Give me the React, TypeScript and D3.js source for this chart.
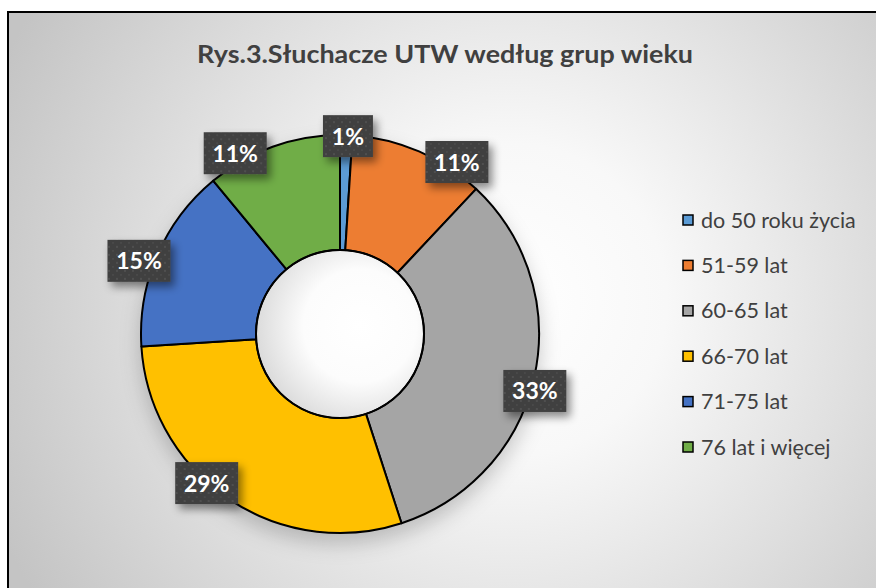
import React from "react";
import * as d3 from "d3";

const categories = ["do 50 roku życia", "51-59 lat", "60-65 lat", "66-70 lat", "71-75 lat", "76 lat i więcej"];
const values = [1, 11, 33, 29, 15, 11];
const labels = ["1%", "11%", "33%", "29%", "15%", "11%"];
const colors = ["#5B9BD5", "#ED7D31", "#A5A5A5", "#FFC000", "#4472C4", "#70AD47"];
// label placement nudges (degrees along arc, radius factor)
const labelAngleNudge = [0.5, 10.8, 3.7, 7.6, -3.4, -10.3];
const labelRadiusFactor = [0.995, 1.045, 1.02, 1.005, 1.075, 1.05];

const title = "Rys.3.Słuchacze UTW według grup wieku";

export default function App() {
  const W = 876, H = 588;
  const cx = 340, cy = 334, R = 199, r = 84;
  const pie = d3.pie<number>().sort(null).value((d) => d);
  const arcs = pie(values);
  const arcGen = d3.arc<d3.PieArcDatum<number>>().innerRadius(r).outerRadius(R);
  const font = "'Open Sans', 'DejaVu Sans', sans-serif";
  const font2 = "Lato, 'Open Sans', sans-serif";

  const legendX = 683, legendY0 = 220, legendStep = 45.4;

  return (
    <svg width={W} height={H} style={{ position: "absolute", left: 0, top: 0 }} fontFamily={font}>
      <defs>
        <radialGradient id="bg" gradientUnits="userSpaceOnUse" cx={510} cy={300} r={560}>
          <stop offset="0" stopColor="#ffffff" />
          <stop offset="0.28" stopColor="#f8f8f8" />
          <stop offset="1" stopColor="#c4c4c4" />
        </radialGradient>
        <filter id="pieShadow" x="-30%" y="-30%" width="160%" height="170%">
          <feDropShadow dx="0" dy="10" stdDeviation="10" floodColor="#000" floodOpacity="0.2" />
        </filter>
        <filter id="boxShadow" x="-40%" y="-40%" width="190%" height="190%">
          <feDropShadow dx="4" dy="5" stdDeviation="4" floodColor="#000" floodOpacity="0.45" />
        </filter>
        <pattern id="dots" width="8" height="8" patternUnits="userSpaceOnUse">
          <rect width="8" height="8" fill="#404040" />
          <circle cx="2" cy="2" r="1" fill="#555555" />
          <circle cx="6" cy="6" r="1" fill="#4a4a4a" />
        </pattern>
        <radialGradient id="hole" cx="0.62" cy="0.45" r="0.62">
          <stop offset="0" stopColor="#ffffff" />
          <stop offset="0.55" stopColor="#fcfcfc" />
          <stop offset="1" stopColor="#dcdcdc" />
        </radialGradient>
      </defs>
      <rect x={8} y={12} width={W + 20} height={H + 20} fill="url(#bg)" stroke="#000" strokeWidth={2} />
      <text x={445} y={63} textAnchor="middle" fontSize={25} fontWeight="bold" fill="#404040" fontFamily={font2}
        textLength={496} lengthAdjust="spacingAndGlyphs">{title}</text>

      <g transform={`translate(${cx},${cy})`}>
        <g filter="url(#pieShadow)">
          {arcs.map((a, i) => (
            <path key={i} d={arcGen(a) || ""} fill={colors[i]} stroke="#000" strokeWidth={2} strokeLinejoin="round" />
          ))}
        </g>
        <circle r={r - 1} fill="url(#hole)" />
        <circle r={r} fill="none" stroke="#000" strokeWidth={2} />
        {arcs.map((a, i) => {
          const mid = (a.startAngle + a.endAngle) / 2 + (labelAngleNudge[i] * Math.PI) / 180;
          const rr = R * labelRadiusFactor[i];
          const x = Math.sin(mid) * rr;
          const y = -Math.cos(mid) * rr;
          const digits = labels[i].length - 1;
          const bw = 37 + 13 * digits;
          const bh = 42;
          return (
            <g key={"l" + i} transform={`translate(${x},${y})`}>
              <rect x={-bw / 2} y={-bh / 2} width={bw} height={bh} fill="url(#dots)" filter="url(#boxShadow)" />
              <text y={8.5} textAnchor="middle" fontSize={23} fontWeight="bold" fill="#ffffff" fontFamily={font2}>{labels[i]}</text>
            </g>
          );
        })}
      </g>

      {categories.map((c, i) => {
        const y = legendY0 + i * legendStep;
        return (
          <g key={"g" + i}>
            <rect x={legendX} y={y - 5} width={10} height={10} fill={colors[i]} stroke="#000" strokeWidth={1.5} />
            <text x={legendX + 18} y={y + 7.5} fontSize={21.5} fill="#404040" fontFamily={font2}>{c}</text>
          </g>
        );
      })}
    </svg>
  );
}
